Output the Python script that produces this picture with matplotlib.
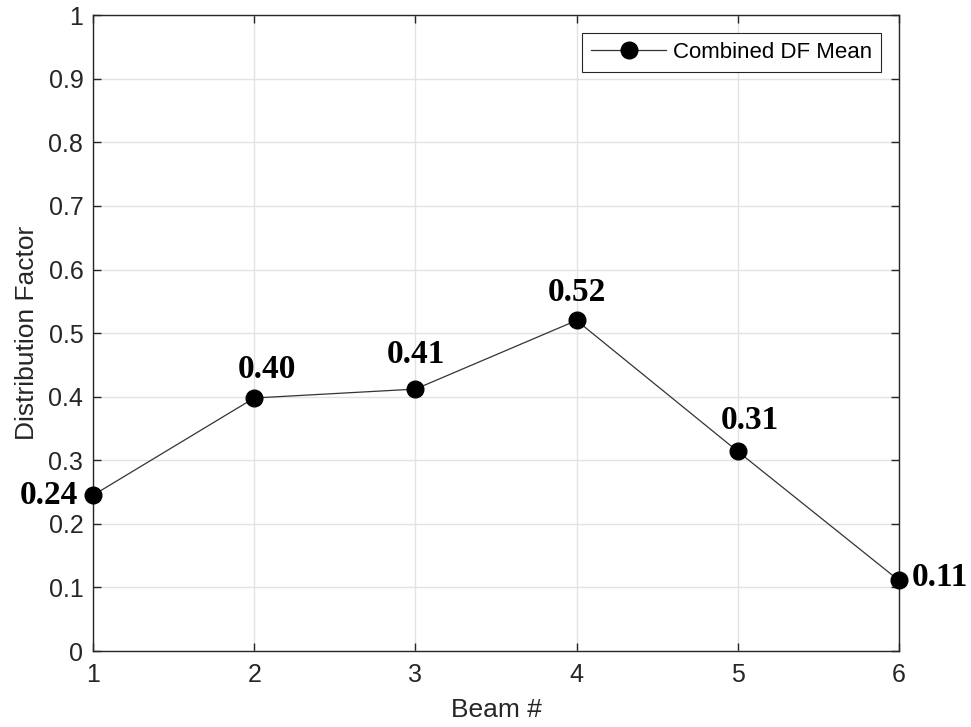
import numpy as np
import matplotlib.pyplot as plt

beams = [1, 2, 3, 4, 5, 6]
df_mean = [0.245, 0.398, 0.412, 0.520, 0.314, 0.111]
labels = ['0.24', '0.40', '0.41', '0.52', '0.31', '0.11']
ytick_labels = ['0', '0.1', '0.2', '0.3', '0.4', '0.5', '0.6', '0.7', '0.8', '0.9', '1']

fig = plt.figure(figsize=(9.71, 7.27), dpi=100)
ax = fig.add_axes([0.0958, 0.1045, 0.830, 0.8745])

ax.plot(beams, df_mean, color='#333333', linewidth=0.9, marker='o',
        markersize=12, markerfacecolor='black', markeredgecolor='black',
        label='Combined DF Mean', clip_on=False, zorder=5)

# value labels next to each point
offsets = [(-32, 0), (9, 20.5), (0.7, 25), (0, 20), (8.6, 22), (29.5, 2)]
for x, y, s, off in zip(beams, df_mean, labels, offsets):
    ax.annotate(s, (x, y), xytext=off, textcoords='offset points',
                ha='center', va='center', fontsize=24, fontweight='bold',
                family='Liberation Serif', color='black', annotation_clip=False)

ax.set_xlim(1, 6)
ax.set_ylim(0, 1)
ax.set_xticks(beams)
ax.set_yticks(np.round(np.arange(0, 1.01, 0.1), 1))
ax.set_yticklabels(ytick_labels)
ax.grid(True, color='#e3e3e3', linewidth=1)
ax.set_axisbelow(True)
ax.tick_params(direction='in', top=True, right=True, length=6, width=1,
               colors='#262626', labelsize=18, labelcolor='#262626')
ax.tick_params(axis='y', pad=7)
ax.tick_params(axis='x', pad=8.5)
for sp in ax.spines.values():
    sp.set_color('#262626')
    sp.set_linewidth(1)
for lab in ax.get_xticklabels() + ax.get_yticklabels():
    lab.set_family('Liberation Sans')

ax.set_xlabel('Beam #', fontsize=19, color='#262626', family='Liberation Sans', labelpad=8)
ax.set_ylabel('Distribution Factor', fontsize=19, color='#262626', family='Liberation Sans', labelpad=7)

leg = ax.legend(loc='upper right', prop={'family': 'Liberation Sans', 'size': 16},
                fancybox=False, framealpha=1, edgecolor='#262626',
                handlelength=3.4, handletextpad=0.3, borderpad=0.4,
                borderaxespad=0.8)
leg.get_frame().set_linewidth(0.8)

fig.savefig('out.png', dpi=100)
